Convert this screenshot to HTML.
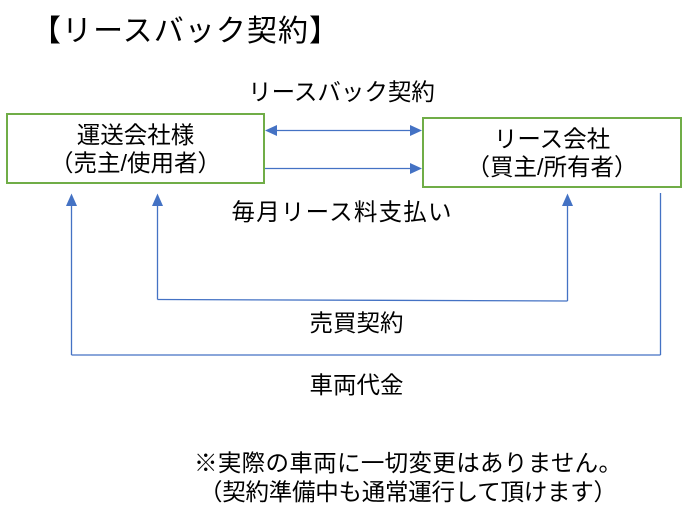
<!DOCTYPE html>
<html>
<head>
<meta charset="utf-8">
<style>
html,body{margin:0;padding:0;background:#fff;}
body{width:684px;height:522px;overflow:hidden;}
svg{display:block;}
text{font-family:"Liberation Sans","Noto Sans CJK JP",sans-serif;fill:#000;}
</style>
</head>
<body>
<svg width="684" height="522" viewBox="0 0 684 522" xmlns="http://www.w3.org/2000/svg">
  <!-- Title -->
  <text x="31" y="41" font-size="30" textLength="308" lengthAdjust="spacing">【リースバック契約】</text>

  <!-- Top label -->
  <text x="341.5" y="100" font-size="23.5" text-anchor="middle">リースバック契約</text>

  <!-- Boxes -->
  <rect x="7" y="114" width="257" height="69" fill="#fff" stroke="#70AD47" stroke-width="2"/>
  <rect x="423" y="118" width="258" height="69" fill="#fff" stroke="#70AD47" stroke-width="2"/>

  <text x="135.5" y="143" font-size="23.5" text-anchor="middle">運送会社様</text>
  <text x="135.5" y="171" font-size="23.5" text-anchor="middle">（売主/使用者）</text>

  <text x="552" y="147" font-size="23.5" text-anchor="middle">リース会社</text>
  <text x="552" y="175" font-size="23.5" text-anchor="middle">（買主/所有者）</text>

  <!-- Connectors -->
  <g stroke="#4472C4" stroke-width="1.3" fill="none">
    <line x1="275" y1="130.5" x2="411" y2="130.5"/>
    <line x1="265" y1="168.5" x2="411" y2="168.5"/>
    <line x1="71.5" y1="205" x2="71.5" y2="355"/>
    <line x1="71.5" y1="355" x2="660.5" y2="355"/>
    <line x1="660.5" y1="193" x2="660.5" y2="355"/>
    <line x1="157.5" y1="205" x2="157.5" y2="299.5"/>
    <polyline points="157.5,299.5 567.5,301"/>
    <line x1="567.5" y1="205" x2="567.5" y2="301"/>
  </g>
  <g fill="#4472C4">
    <polygon points="265,130.5 277,125 277,136"/>
    <polygon points="422,130.5 410,125 410,136"/>
    <polygon points="422,168.5 410,163 410,174"/>
    <polygon points="71.5,193.5 66,206 77,206"/>
    <polygon points="157.5,193.5 152,206 163,206"/>
    <polygon points="567.5,193.5 562,206 573,206"/>
  </g>

  <!-- Connector labels -->
  <text x="341.5" y="220" font-size="23.5" text-anchor="middle" textLength="220" lengthAdjust="spacing">毎月リース料支払い</text>
  <text x="356.5" y="331" font-size="23.5" text-anchor="middle">売買契約</text>
  <text x="356.5" y="393" font-size="23.5" text-anchor="middle">車両代金</text>

  <!-- Notes -->
  <text x="194" y="471" font-size="23.5" textLength="428" lengthAdjust="spacing">※実際の車両に一切変更はありません。</text>
  <text x="199" y="500" font-size="23.5" textLength="418" lengthAdjust="spacing">（契約準備中も通常運行して頂けます）</text>
</svg>
</body>
</html>
